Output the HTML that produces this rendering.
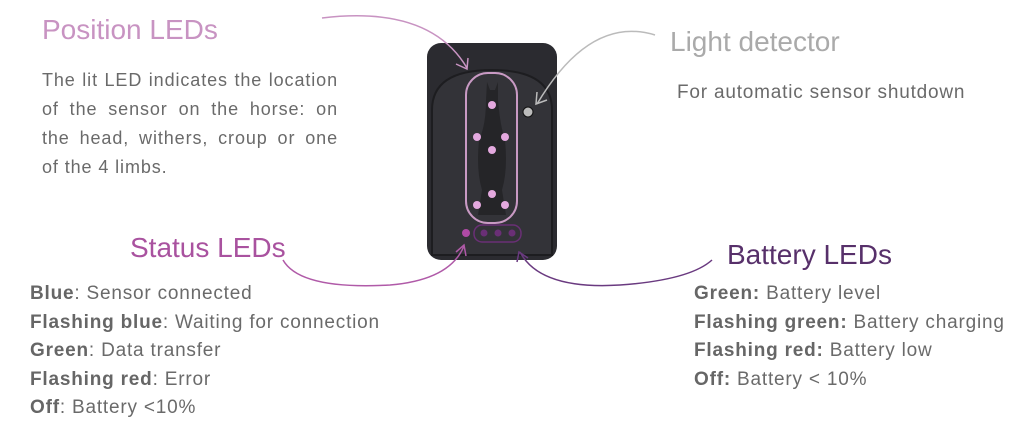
<!DOCTYPE html>
<html><head><style>
body{margin:0;width:1024px;height:429px;background:#fff;position:relative;overflow:hidden;font-family:"Liberation Sans",sans-serif}
.t{position:absolute;white-space:nowrap}
.h{font-size:28px}
.b{font-size:19px;letter-spacing:0.8px;color:#6a6a6a}
.l{position:absolute;font-size:19px;letter-spacing:0.8px;color:#6a6a6a;line-height:28.5px;white-space:nowrap}
.l b{color:#666}
</style></head><body>
<div class="t h" style="left:42px;top:14px;color:#c893c2">Position LEDs</div>
<div class="b" style="position:absolute;left:42px;top:66px;width:296px;line-height:29px;text-align:justify;font-size:18px;letter-spacing:0.9px">The lit LED indicates the location of the sensor on the horse: on the head, withers, croup or one of the 4 limbs.</div>
<div class="t h" style="left:670px;top:26px;color:#aaa">Light detector</div>
<div class="t b" style="left:677px;top:82px">For automatic sensor shutdown</div>
<div class="t h" style="left:130px;top:232px;color:#a9529f">Status LEDs</div>
<div class="t h" style="left:727px;top:239px;color:#57306a">Battery LEDs</div>
<div class="l" style="left:30px;top:280px"><b>Blue</b>: Sensor connected<br><b>Flashing blue</b>: Waiting for connection<br><b>Green</b>: Data transfer<br><b>Flashing red</b>: Error<br><b>Off</b>: Battery &lt;10%</div>
<div class="l" style="left:694px;top:280px"><b>Green:</b> Battery level<br><b>Flashing green:</b> Battery charging<br><b>Flashing red:</b> Battery low<br><b>Off:</b> Battery &lt; 10%</div>
<svg width="1024" height="429" style="position:absolute;left:0;top:0">
<rect x="427" y="43" width="130" height="217" rx="14" fill="#2b2b30"/>
<path d="M432 255 L432 110 Q432 70 492 70 Q552 70 552 110 L552 255 Z" fill="#333338" stroke="#1d1d20" stroke-width="2"/>
<rect x="466" y="73" width="51" height="150" rx="22" fill="none" stroke="#c99ac4" stroke-width="2"/>
<path d="M487 82 L490 90 L495 90 L498 82 L498 100 Q500 125 505 140 Q508 170 502 190 L506 215 L478 215 L482 190 Q476 170 479 140 Q486 125 486 100 Z" fill="#252528"/>
<g fill="#e4a9df"><circle cx="492" cy="105" r="4"/><circle cx="477" cy="137" r="4"/><circle cx="505" cy="137" r="4"/><circle cx="492" cy="150" r="4"/><circle cx="492" cy="194" r="4"/><circle cx="477" cy="205" r="4"/><circle cx="505" cy="205" r="4"/></g>
<circle cx="528" cy="112" r="5" fill="#bbb" stroke="#111"/>
<circle cx="466" cy="233" r="4" fill="#b04aa6"/>
<rect x="474" y="225" width="47" height="17" rx="8" fill="none" stroke="#6a2f76" stroke-width="1.5"/>
<g fill="#6a2f76"><circle cx="484" cy="233" r="3.5"/><circle cx="498" cy="233" r="3.5"/><circle cx="512" cy="233" r="3.5"/></g>
<g fill="none" stroke-width="1.5">
<path d="M322 18 Q430 5 467 68 M456 64 L467 69 L468 58" stroke="#c893c2"/>
<path d="M655 35 Q590 15 537 104 M537 92 L536 104 L547 100" stroke="#bbb"/>
<path d="M283 260 Q300 290 390 285 Q450 280 464 246 M456 252 L464 245 L466 256" stroke="#b05aa8"/>
<path d="M520 252 Q540 290 620 285 Q690 280 712 260 M517 262 L519 252 L528 258" stroke="#6a3a80"/>
</g>
</svg>
</body></html>
